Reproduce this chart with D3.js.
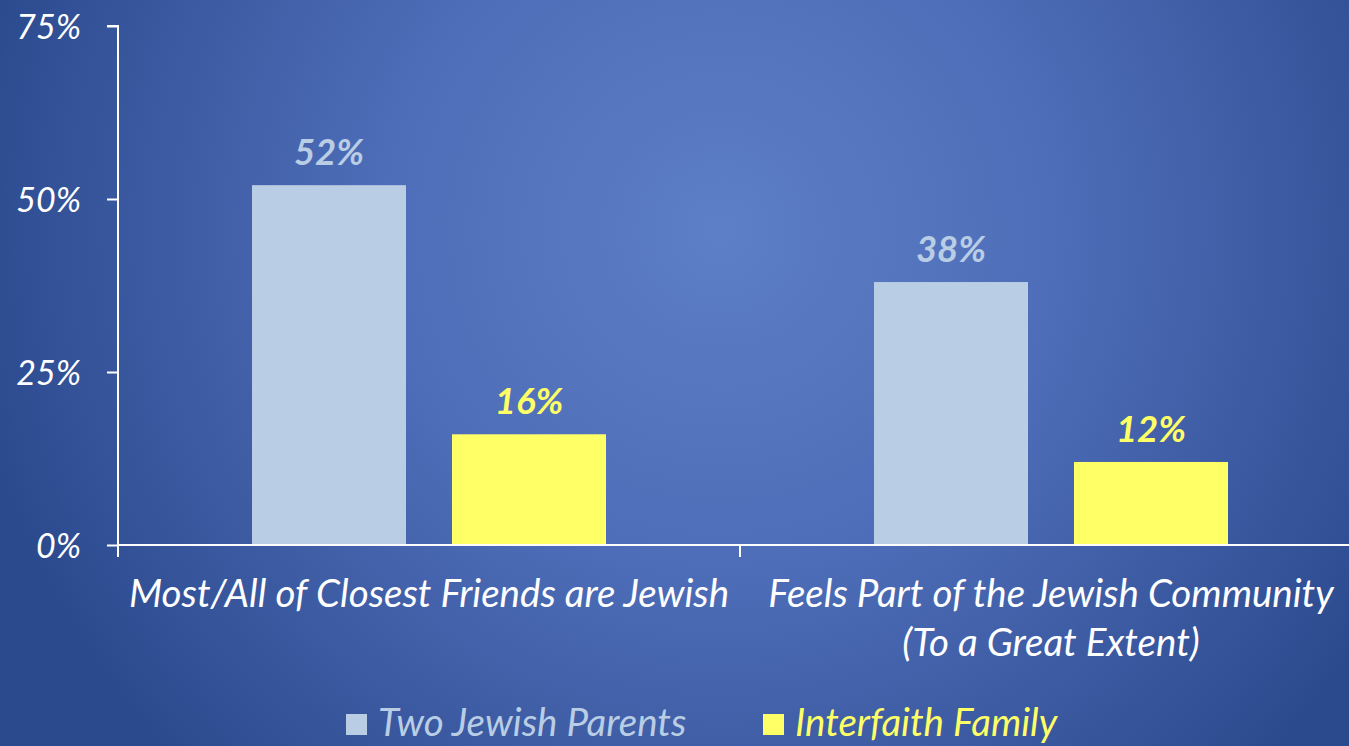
<!DOCTYPE html>
<html>
<head>
<meta charset="utf-8">
<script src="https://cdn.jsdelivr.net/npm/d3@7"></script>
<style>
  html, body { margin: 0; padding: 0; background: #3a5aa3; }
  svg { display: block; }
  text { font-family: Lato, "Open Sans", sans-serif; font-style: italic; }
</style>
</head>
<body>
<svg id="chart" width="1349" height="746"></svg>
<script>
// Survey measures and the two family groups
const categories = [
  ["Most/All of Closest Friends are Jewish"],
  ["Feels Part of the Jewish Community", "(To a Great Extent)"]
];
const seriesNames = ["Two Jewish Parents", "Interfaith Family"];
const twoJewishParents = [52, 38];
const interfaithFamily = [16, 12];
const yTicks = [0, 25, 50, 75];

const seriesValues = [twoJewishParents, interfaithFamily];
const seriesColors = ["#B9CDE5", "#FFFF66"];

const W = 1349, H = 746;
const svg = d3.select("#chart");

// Background: soft radial glow, lighter toward the middle
const defs = svg.append("defs");
const grad = defs.append("radialGradient")
  .attr("id", "bg")
  .attr("gradientUnits", "userSpaceOnUse")
  .attr("cx", 720).attr("cy", 230).attr("r", 760);
grad.append("stop").attr("offset", 0).attr("stop-color", "#5D7FC7");
grad.append("stop").attr("offset", 0.45).attr("stop-color", "#4E6DB8");
grad.append("stop").attr("offset", 1).attr("stop-color", "#2B4A8E");
svg.append("rect").attr("width", W).attr("height", H).attr("fill", "url(#bg)");

const plot = { left: 118, right: 1362, top: 26, bottom: 545 };

const x0 = d3.scaleBand()
  .domain(d3.range(categories.length))
  .range([plot.left, plot.right])
  .padding(0);
const x1 = d3.scaleBand()
  .domain(d3.range(seriesNames.length))
  .range([0, x0.bandwidth()])
  .paddingInner(0.23)
  .paddingOuter(0.67);
const y = d3.scaleLinear().domain([0, 75]).range([plot.bottom, plot.top]);

// Bars
const groups = svg.append("g").selectAll("g")
  .data(categories.map((c, i) => i))
  .join("g")
  .attr("transform", i => `translate(${x0(i)},0)`);

groups.selectAll("rect")
  .data(i => seriesValues.map((vals, s) => ({ s, v: vals[i] })))
  .join("rect")
  .attr("x", d => x1(d.s))
  .attr("width", x1.bandwidth())
  .attr("y", d => y(d.v))
  .attr("height", d => y(0) - y(d.v))
  .attr("fill", d => seriesColors[d.s]);

// Value labels
groups.selectAll("text.val")
  .data(i => seriesValues.map((vals, s) => ({ s, v: vals[i] })))
  .join("text")
  .attr("class", "val")
  .attr("x", d => x1(d.s) + x1.bandwidth() / 2)
  .attr("y", d => y(d.v) - 20)
  .attr("text-anchor", "middle")
  .attr("font-size", 36.5)
  .attr("font-weight", 700)
  .attr("fill", d => seriesColors[d.s])
  .text(d => d.v + "%");

// Y axis
const yAxis = d3.axisLeft(y)
  .tickValues(yTicks)
  .tickFormat(d => d + "%")
  .tickSize(11)
  .tickPadding(26);
const gy = svg.append("g").attr("transform", `translate(${plot.left},0)`).call(yAxis);
gy.select(".domain").attr("stroke", "#fff").attr("stroke-width", 2)
  .attr("d", `M-11,${plot.top}H0V${plot.bottom + 12}`);
gy.selectAll(".tick line").attr("stroke", "#fff").attr("stroke-width", 2);
gy.selectAll(".tick text")
  .attr("fill", "#fff")
  .attr("font-size", 34)
  .attr("font-family", "Lato, sans-serif")
  .attr("font-style", "italic")
  .attr("dy", "0.36em");

// X axis with dividers between categories
const gx = svg.append("g");
gx.append("line")
  .attr("x1", plot.left).attr("x2", plot.right)
  .attr("y1", y(0)).attr("y2", y(0))
  .attr("stroke", "#fff").attr("stroke-width", 2);
gx.selectAll("line.div")
  .data(d3.range(1, categories.length))
  .join("line")
  .attr("class", "div")
  .attr("x1", i => x0(i)).attr("x2", i => x0(i))
  .attr("y1", y(0)).attr("y2", y(0) + 12)
  .attr("stroke", "#fff").attr("stroke-width", 2);

// Category labels
gx.selectAll("text.cat")
  .data(categories.map((lines, i) => ({ lines, i })))
  .join("text")
  .attr("class", "cat")
  .attr("text-anchor", "middle")
  .attr("fill", "#fff")
  .attr("font-size", 38.5)
  .each(function(d) {
    const t = d3.select(this);
    d.lines.forEach((ln, k) => {
      t.append("tspan")
        .attr("x", x0(d.i) + x0.bandwidth() / 2)
        .attr("y", 607 + k * 49)
        .text(ln);
    });
  });

// Legend
const legendX = [346, 763];
const legend = svg.append("g").selectAll("g")
  .data(seriesNames.map((n, s) => ({ n, s })))
  .join("g")
  .attr("transform", d => `translate(${legendX[d.s]},714)`);
legend.append("rect")
  .attr("width", 21).attr("height", 21)
  .attr("fill", d => seriesColors[d.s]);
legend.append("text")
  .attr("x", 32).attr("y", 22)
  .attr("font-size", 38.5)
  .attr("fill", d => seriesColors[d.s])
  .text(d => d.n);
</script>
</body>
</html>
